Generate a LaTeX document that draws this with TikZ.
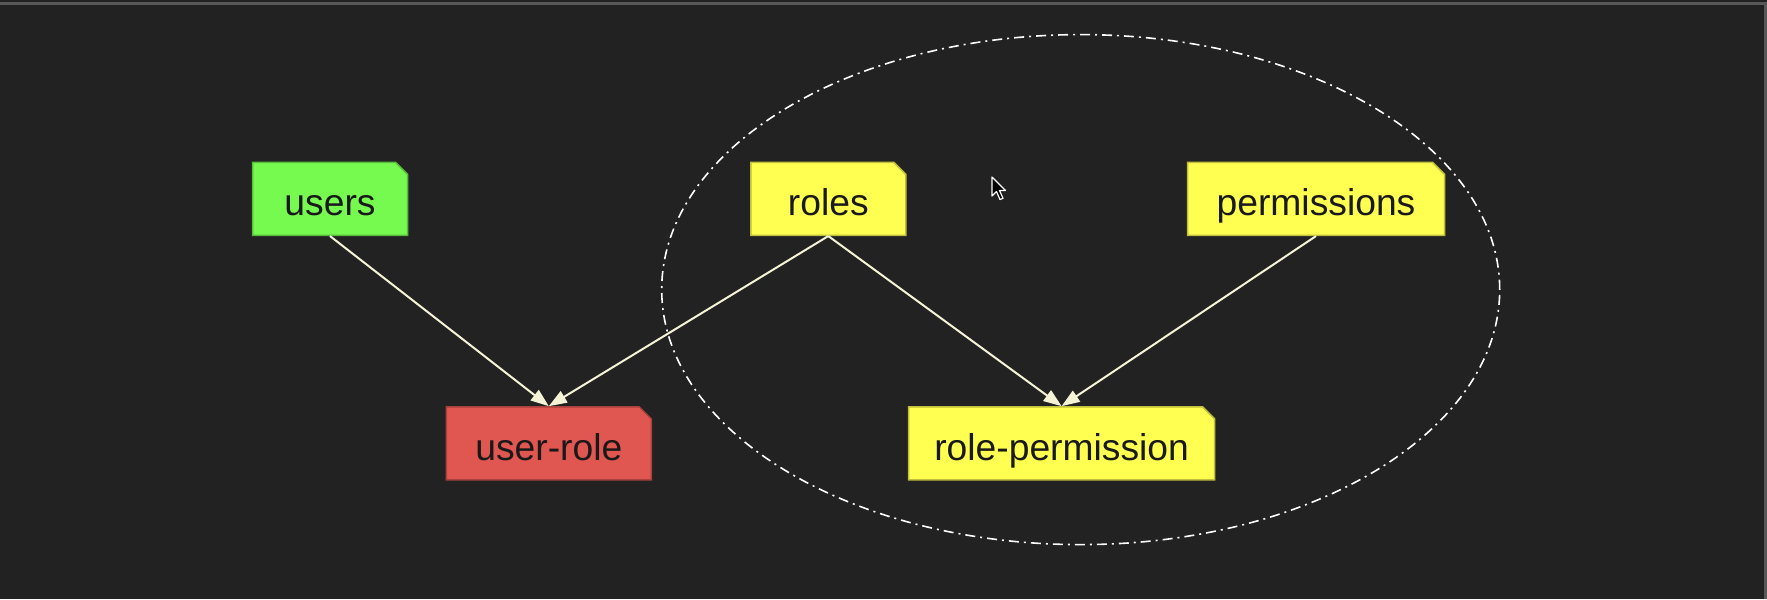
\documentclass[tikz,border=0pt]{standalone}
\usepackage{fontspec}
\setmainfont{Liberation Sans}
\usetikzlibrary{shapes.misc,arrows.meta}
\definecolor{bgdark}{RGB}{34,34,34}
\definecolor{framegrey}{RGB}{88,88,88}
\definecolor{usersgreen}{RGB}{118,250,80}
\definecolor{rolesyellow}{RGB}{255,255,82}
\definecolor{linkred}{RGB}{224,86,80}
\definecolor{linkcream}{RGB}{245,243,214}
\tikzset{
  table/.style={chamfered rectangle, chamfered rectangle corners=north east,
    chamfered rectangle xsep=0.6mm, chamfered rectangle ysep=0.6mm,
    line width=0.15mm, inner sep=0pt, minimum height=7.3mm,
    text height=3.6mm, text depth=0.2mm,
    font=\fontsize{10.6}{13}\selectfont, text=black!90},
  link/.style={-{Triangle[length=1.8mm,width=1.3mm]}, draw=linkcream, line width=0.2mm}
}
\begin{document}
\begin{tikzpicture}[x=0.1mm,y=-0.1mm]
    \fill[bgdark] (0,0) rectangle (1767,599);
    \useasboundingbox (0,0) rectangle (1767,599);
    \draw[framegrey, line width=0.3mm] (0,3) -- (1767,3);
    \draw[framegrey, line width=0.3mm] (1765.5,3) -- (1765.5,599);
    \draw[white, line width=0.16mm, dash pattern=on 1mm off 0.5mm on 0.2mm off 0.5mm]
      (1080.7,289.6) ellipse [x radius=41.9mm, y radius=25.5mm];
    \node[table, fill=usersgreen, draw=usersgreen!75!black, minimum width=15.5mm] (users) at (330,198.8) {users};
    \node[table, fill=rolesyellow, draw=rolesyellow!75!black, minimum width=15.5mm] (roles) at (828.3,198.8) {roles};
    \node[table, fill=rolesyellow, draw=rolesyellow!75!black, minimum width=25.7mm] (permissions) at (1316,198.8) {permissions};
    \node[table, fill=linkred, draw=linkred!75!black, minimum width=20.5mm] (userrole) at (548.8,443.4) {user-role};
    \node[table, fill=rolesyellow, draw=rolesyellow!75!black, minimum width=30.6mm] (rolepermission) at (1061.6,443.4) {role-permission};
    \path (users.south) edge[link] (userrole.north)
      (roles.south) edge[link] (userrole.north)
      (roles.south) edge[link] (rolepermission.north)
      (permissions.south) edge[link] (rolepermission.north);
    \draw[white, fill=black, line width=0.12mm, line join=round]
      (992,177) -- (992,196) -- (996.5,191.5) -- (1000,199.5) -- (1003,198.3) -- (999.5,190.5) -- (1005.5,190.5) -- cycle;
\end{tikzpicture}
\end{document}
